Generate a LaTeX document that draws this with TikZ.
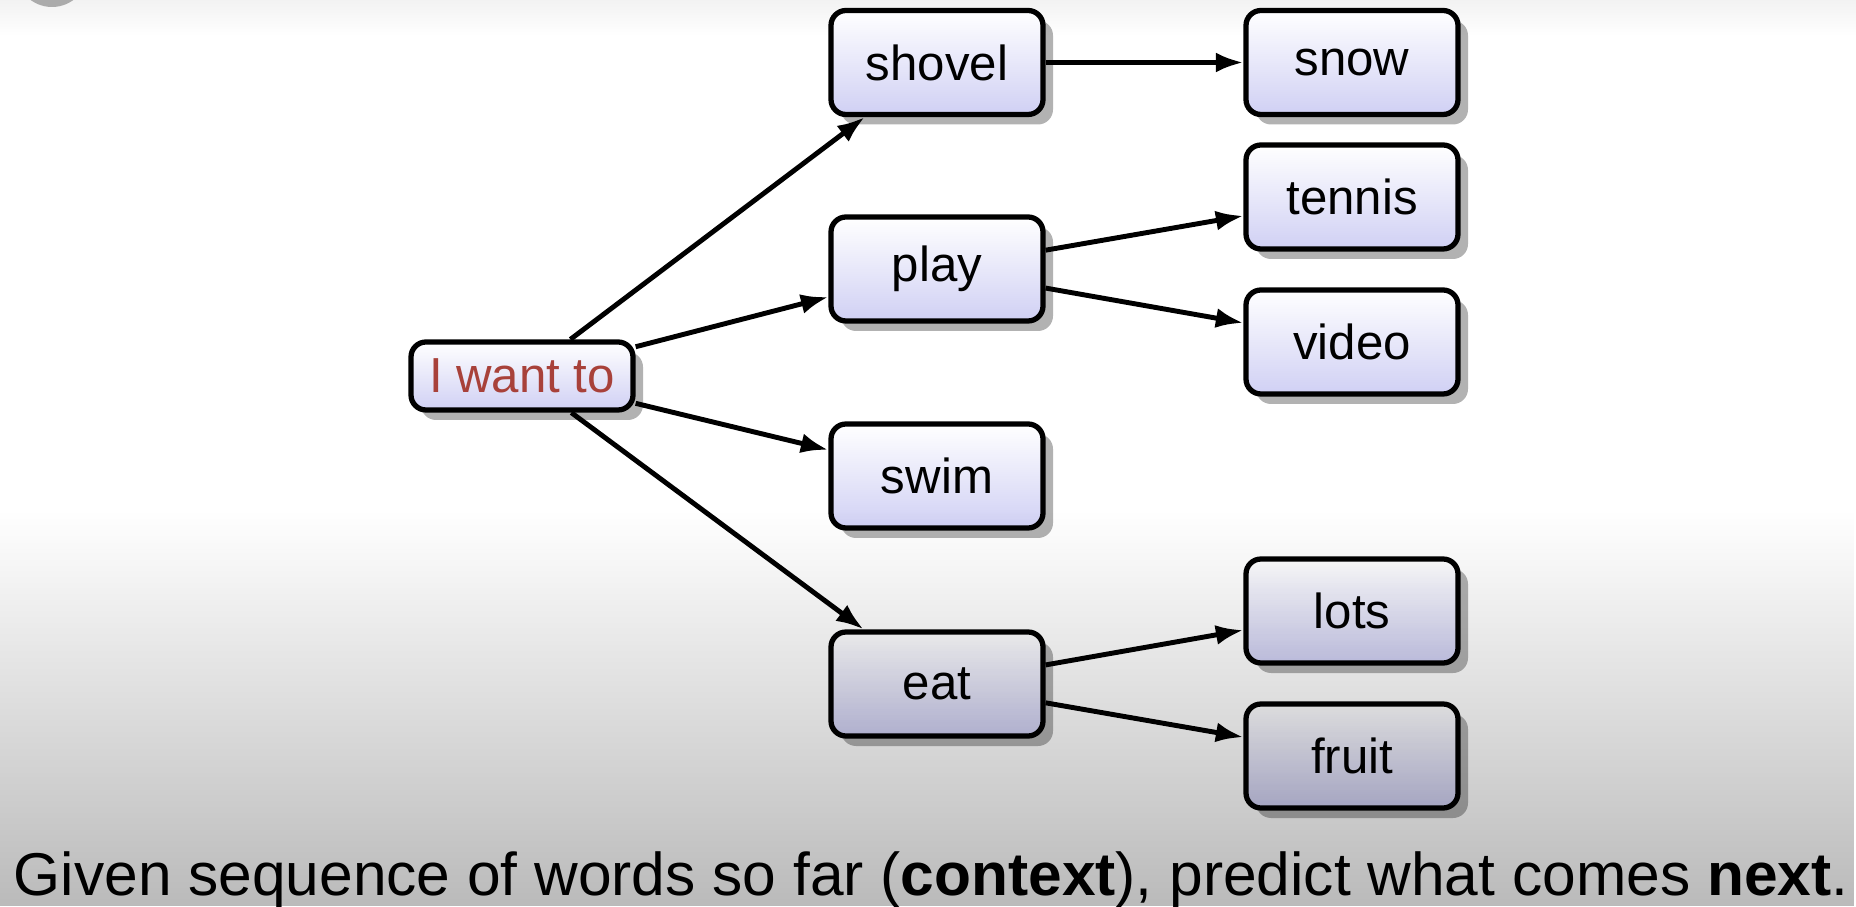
\documentclass[tikz,border=0pt]{standalone}
\usepackage{fontspec}
\setmainfont{Liberation Sans}
\usetikzlibrary{arrows.meta,shadows,fadings}
\definecolor{WordRed}{HTML}{A8413A}
\definecolor{BoxLilac}{HTML}{D0D0F4}
\definecolor{Ink}{HTML}{000000}
\tikzfading[name=darkbottom,top color=transparent!100,bottom color=transparent!0]

\begin{document}
\begin{tikzpicture}[
  word/.style={draw=Ink,line width=3pt,rounded corners=0.3cm,top color=white,bottom color=BoxLilac,minimum width=4.24cm,minimum height=2.08cm,font=\fontsize{28}{34}\selectfont,drop shadow={shadow xshift=0.2cm,shadow yshift=-0.2cm,fill=black,opacity=0.3}},
  context/.style={word,minimum width=4.44cm,minimum height=1.36cm,text=WordRed},
  arr/.style={-{Latex[length=0.55cm,width=0.4cm]},draw=Ink,line width=2.8pt}
]
\useasboundingbox (0,0) rectangle (37.12,18.12);
% background
\fill[white] (0,0) rectangle (37.12,18.12);
\shade[top color=black!5,bottom color=white] (0,17.4) rectangle (37.12,18.12);
\begin{scope}
  \clip (0,0) rectangle (37.12,18.12);
  \fill[black!33] (1.04,18.7) circle (0.72);
\end{scope}
% words
\node[context] (want) at (10.44,10.60) {I want to};
\node[word] (shovel) at (18.74,16.87) {shovel};
\node[word] (play) at (18.74,12.74) {play};
\node[word] (swim) at (18.74,8.60) {swim};
\node[word] (eat) at (18.74,4.44) {eat};
\node[word] (snow) at (27.04,16.87) {snow};
\node[word] (tennis) at (27.04,14.18) {tennis};
\node[word] (video) at (27.04,11.28) {video};
\node[word] (lots) at (27.04,5.90) {lots};
\node[word] (fruit) at (27.04,3.00) {fruit};
% next-word arrows
\foreach \nxt in {shovel,play,swim,eat}
  \draw[arr] (want) -- (\nxt);
\draw[arr] (shovel) -- (snow);
\draw[arr] (play) -- (tennis);
\draw[arr] (play) -- (video);
\draw[arr] (eat) -- (lots);
\draw[arr] (eat) -- (fruit);
% darker lower part
\fill[black,opacity=0.27,path fading=darkbottom] (0,0) rectangle (37.12,7.9);
\node[anchor=base,font=\fontsize{34.4}{40}\selectfont,inner sep=0pt] (caption) at (18.62,0.22)
  {Given sequence of words so far (\textbf{context}), predict what comes \textbf{next}.};
\end{tikzpicture}
\end{document}
